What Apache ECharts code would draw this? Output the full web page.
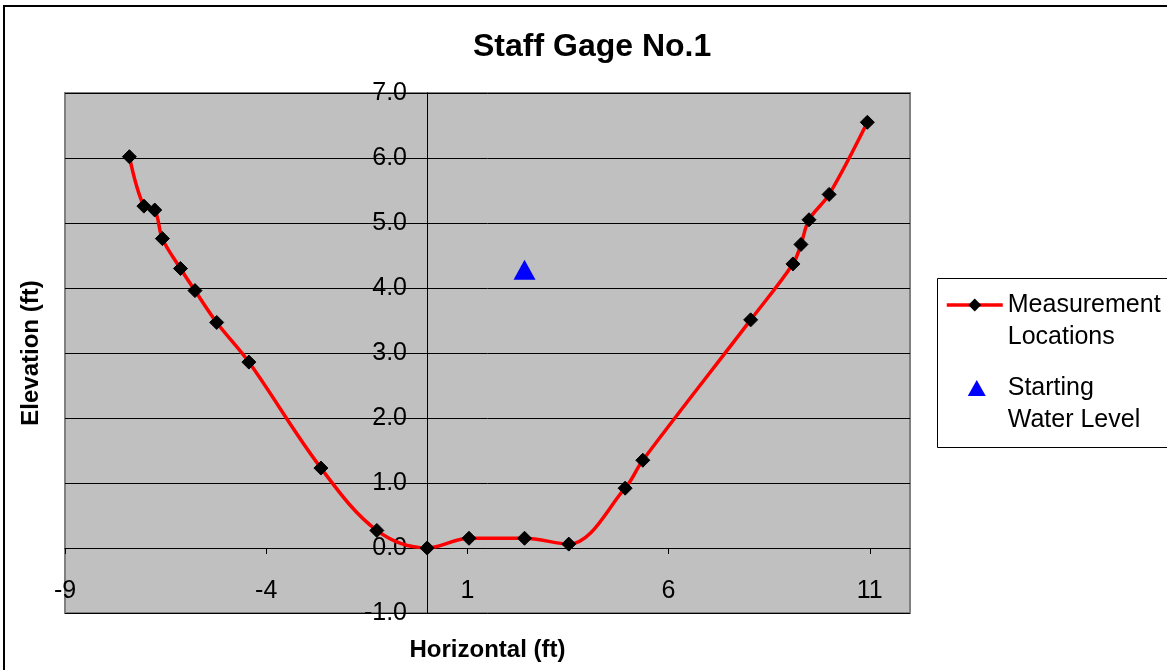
<!DOCTYPE html>
<html>
<head>
<meta charset="utf-8">
<script src="https://cdn.jsdelivr.net/npm/echarts@6/dist/echarts.min.js"></script>
<style>
html,body{margin:0;padding:0;background:#fff;}
#chart{width:1167px;height:670px;}
</style>
</head>
<body>
<div id="chart"></div>
<script>
// Data
const measX = [-7.4, -7.04, -6.77, -6.58, -6.13, -5.77, -5.23, -4.43, -2.64, -1.25, 0.0, 1.04, 2.42, 3.52, 4.92, 5.36, 8.04, 9.09, 9.29, 9.49, 9.99, 10.94];
const measY = [6.02, 5.26, 5.2, 4.76, 4.30, 3.96, 3.47, 2.86, 1.23, 0.27, 0.0, 0.15, 0.15, 0.06, 0.92, 1.35, 3.51, 4.37, 4.67, 5.05, 5.44, 6.55];
const waterX = [2.42];
const waterY = [4.28];
const xTicks = [-9, -4, 1, 6, 11];
const seriesNames = ['Measurement\nLocations', 'Starting\nWater Level'];

const FONT = 'Liberation Sans, Arial, sans-serif';
const chart = echarts.init(document.getElementById('chart'));
chart.setOption({
  animation: false,
  backgroundColor: '#ffffff',
  title: {
    text: 'Staff Gage No.1',
    left: 468, top: 26,
    textStyle: {fontFamily: FONT, fontSize: 32, fontWeight: 'bold', color: '#000'}
  },
  graphic: [
    {type: 'rect', left: 3, top: 5, z: -10, shape: {width: 1200, height: 700},
     style: {fill: 'transparent', stroke: '#000', lineWidth: 2}},
    {type: 'rect', left: 937, top: 278, z: 1, shape: {width: 260, height: 169},
     style: {fill: '#fff', stroke: '#000', lineWidth: 1}}
  ],
  legend: {
    orient: 'vertical',
    left: 945, top: 257,
    itemWidth: 56, itemHeight: 16,
    itemGap: -13,
    padding: 0,
    z: 5,
    formatter: name => '\n' + name,
    textStyle: {fontFamily: FONT, fontSize: 25, color: '#000', lineHeight: 32},
    data: [
      {name: seriesNames[0], lineStyle: {color: '#FF0000', width: 3.5}},
      {name: seriesNames[1], icon: 'path://M0,0 M56,16 M30,0 L39,16 L21,16 Z'}
    ]
  },
  grid: {
    left: 65, right: 257, top: 93, bottom: 57,
    outerBoundsMode: 'none', containLabel: false,
    show: true, backgroundColor: '#C0C0C0', borderColor: '#808080', borderWidth: 2
  },
  xAxis: {
    type: 'value', min: -9, max: 12,
    name: 'Horizontal (ft)', nameLocation: 'middle', nameGap: 25,
    nameTextStyle: {fontFamily: FONT, fontSize: 24, fontWeight: 'bold', color: '#000'},
    axisLine: {onZero: true, lineStyle: {color: '#000', width: 1}},
    axisTick: {show: true, length: 6, customValues: xTicks, lineStyle: {color: '#000'}},
    axisLabel: {customValues: xTicks, margin: -34, fontFamily: FONT, fontSize: 25, color: '#000'},
    splitLine: {show: false}
  },
  yAxis: {
    type: 'value', min: -1, max: 7, interval: 1,
    name: 'Elevation (ft)', nameLocation: 'middle', nameGap: 22,
    nameTextStyle: {fontFamily: FONT, fontSize: 24, fontWeight: 'bold', color: '#000'},
    axisLine: {onZero: true, lineStyle: {color: '#000', width: 1}},
    axisTick: {show: true, length: 7, lineStyle: {color: '#000'}},
    axisLabel: {margin: -342, fontFamily: FONT, fontSize: 25, color: '#000',
      formatter: v => v.toFixed(1)},
    splitLine: {show: true, lineStyle: {color: '#000', width: 1}}
  },
  series: [
    {
      name: seriesNames[0], type: 'line', smooth: 0.35,
      data: measX.map((x, i) => [x, measY[i]]),
      symbol: 'diamond', symbolSize: 14,
      lineStyle: {color: '#FF0000', width: 3.5},
      itemStyle: {color: '#000', borderColor: '#000'},
      z: 3
    },
    {
      name: seriesNames[1], type: 'scatter',
      data: waterX.map((x, i) => [x, waterY[i]]),
      symbol: 'triangle', symbolSize: [22, 20],
      itemStyle: {color: '#0000FF', opacity: 1},
      z: 4
    }
  ]
});
</script>
</body>
</html>
